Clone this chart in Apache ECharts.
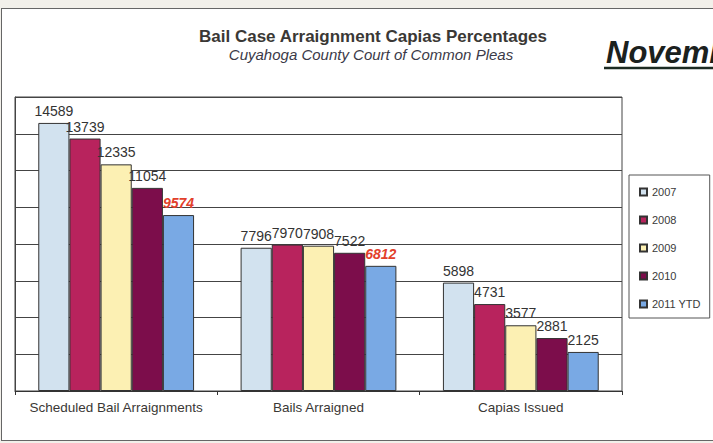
<!DOCTYPE html>
<html><head><meta charset="utf-8">
<script src="https://cdn.jsdelivr.net/npm/echarts@6/dist/echarts.min.js"></script>
<style>
html,body{margin:0;padding:0;width:713px;height:443px;overflow:hidden;background:#f2f0ea;}
#frame{position:absolute;left:1px;top:8px;width:800px;height:431px;border:1.5px solid #666;background:#fff;}
#chart{position:absolute;left:0;top:0;width:713px;height:443px;}
</style></head><body>
<div id="frame"></div><div id="chart"></div>
<script>
const categories = ['Scheduled Bail Arraignments', 'Bails Arraigned', 'Capias Issued'];
const seriesNames = ['2007', '2008', '2009', '2010', '2011 YTD'];
const v2007 = [14589, 7796, 5898];
const v2008 = [13739, 7970, 4731];
const v2009 = [12335, 7908, 3577];
const v2010 = [11054, 7522, 2881];
const v2011 = [9574, 6812, 2125];
const yTicks = [0, 2000, 4000, 6000, 8000, 10000, 12000, 14000, 16000];

const FONT = "'Liberation Sans', Arial, sans-serif";
const colors = ['#d2e2ef', '#b8235d', '#fcf0b3', '#7c0d4b', '#79a9e4'];
const seriesValues = [v2007, v2008, v2009, v2010, v2011];

const chart = echarts.init(document.getElementById('chart'), null, {renderer: 'svg'});
chart.setOption({
  animation: false,
  backgroundColor: 'transparent',
  grid: {left: 15, right: 91, top: 97, bottom: 52, show: true, borderColor: '#444', borderWidth: 1, backgroundColor: 'transparent'},
  legend: {
    orient: 'vertical', left: 629, top: 175, icon: 'rect', itemWidth: 7, itemHeight: 7, itemGap: 14,
    textStyle: {fontFamily: FONT, fontSize: 11, lineHeight: 14, color: '#3a3a3a'},
    padding: [10, 9, 7, 10], borderColor: '#555', borderWidth: 1, backgroundColor: '#fff',
    data: seriesNames
  },
  xAxis: {
    type: 'category', data: categories,
    axisLine: {lineStyle: {color: '#333', width: 1}},
    axisTick: {show: true, length: 4, lineStyle: {color: '#333'}},
    axisLabel: {interval: 0, fontFamily: FONT, fontSize: 13.5, color: '#3a3835', margin: 9},
    splitLine: {show: false}
  },
  yAxis: {
    type: 'value', min: yTicks[0], max: yTicks[yTicks.length - 1], interval: yTicks[1] - yTicks[0],
    axisLabel: {show: false}, axisTick: {show: false},
    axisLine: {show: true, lineStyle: {color: '#444'}},
    splitLine: {show: true, lineStyle: {color: '#444', width: 1}}
  },
  series: seriesValues.map((vals, i) => ({
    name: seriesNames[i], type: 'bar', barGap: '0%', barCategoryGap: '23%',
    itemStyle: {color: colors[i], borderColor: '#333', borderWidth: 1},
    label: {show: true, position: 'top', distance: 5, fontFamily: FONT, fontSize: 14, color: '#333'},
    data: vals.map((v, j) => (i === 4 && j < 2)
      ? {value: v, label: {color: '#e2402b', fontWeight: 'bold', fontStyle: 'italic'}}
      : v)
  })),
  graphic: [
    {type: 'text', x: 373, y: 36, style: {text: 'Bail Case Arraignment Capias Percentages', font: "bold 17px 'Liberation Sans', Arial, sans-serif", fill: '#3a3835', textAlign: 'center', textVerticalAlign: 'middle', align: 'center', verticalAlign: 'middle'}},
    {type: 'text', x: 371, y: 54, style: {text: 'Cuyahoga County Court of Common Pleas', font: "italic 15px 'Liberation Sans', Arial, sans-serif", fill: '#3b3a48', textAlign: 'center', textVerticalAlign: 'middle', align: 'center', verticalAlign: 'middle'}},
    {type: 'text', x: 606, y: 52, style: {text: 'November', font: "italic bold 31px 'Liberation Sans', Arial, sans-serif", fill: '#1b211e', textAlign: 'left', textVerticalAlign: 'middle', align: 'left', verticalAlign: 'middle'}},
    {type: 'line', shape: {x1: 604, y1: 68, x2: 720, y2: 68}, style: {stroke: '#1b2a22', lineWidth: 2.5}}
  ]
});
</script>
</body></html>
